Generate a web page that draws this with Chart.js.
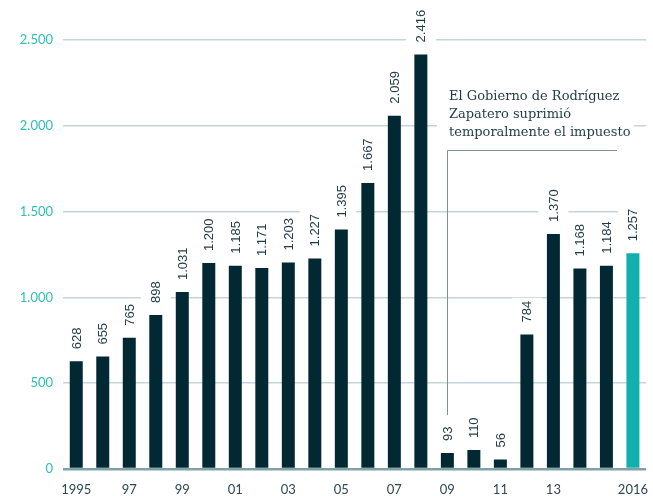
<!DOCTYPE html>
<html>
<head>
<meta charset="utf-8">
<script src="https://cdn.jsdelivr.net/npm/chart.js@4"></script>
<style>
  html, body { margin: 0; padding: 0; background: #fff; }
  #wrap { width: 653px; height: 496px; }
</style>
</head>
<body>
<div id="wrap"><canvas id="chart"></canvas></div>
<script>
const years = ['1995','1996','1997','1998','1999','2000','2001','2002','2003','2004','2005',
               '2006','2007','2008','2009','2010','2011','2012','2013','2014','2015','2016'];
const tickLabels = ['1995','','97','','99','','01','','03','','05','','07','','09','','11','','13','','','2016'];
const values = [628, 655, 765, 898, 1031, 1200, 1185, 1171, 1203, 1227, 1395,
                1667, 2059, 2416, 93, 110, 56, 784, 1370, 1168, 1184, 1257];
const yTicks = [0, 500, 1000, 1500, 2000, 2500];
const noteLines = ['El Gobierno de Rodríguez', 'Zapatero suprimió', 'temporalmente el impuesto'];
const noteIndex = 14; // 2009

const fmt = v => v.toString().replace(/\B(?=(\d{3})+(?!\d))/g, '.');

// value labels + annotation, drawn after grid, before bars
const labelsPlugin = {
    id: 'labels',
    beforeDatasetsDraw(chart) {
        const ctx = chart.ctx;
        const meta = chart.getDatasetMeta(0);
        ctx.save();
        ctx.font = '13px "Liberation Sans", Arial, sans-serif';
        meta.data.forEach((bar, i) => {
            const txt = fmt(values[i]);
            const w = ctx.measureText(txt).width;
            ctx.save();
            ctx.translate(bar.x, bar.y - 12);
            ctx.rotate(-Math.PI / 2);
            ctx.fillStyle = '#fff';
            ctx.fillRect(-3, -15, w + 6, 30);
            ctx.fillStyle = '#1f3b44';
            ctx.textAlign = 'left';
            ctx.textBaseline = 'middle';
            ctx.fillText(txt, 0, 1);
            ctx.restore();
        });

        // annotation
        const nx = Math.round(meta.data[noteIndex].x);
        ctx.fillStyle = '#fff';
        ctx.fillRect(nx - 10, 82, 197, 62);
        ctx.font = '13px "DejaVu Serif", serif';
        ctx.fillStyle = '#1f3b44';
        ctx.textAlign = 'left';
        ctx.textBaseline = 'alphabetic';
        noteLines.forEach((l, k) => ctx.fillText(l, nx + 2, 100 + k * 18));
        ctx.strokeStyle = '#7d9298';
        ctx.lineWidth = 1;
        ctx.beginPath();
        ctx.moveTo(nx + 0.5, meta.data[noteIndex].y - 38);
        ctx.lineTo(nx + 0.5, 150.5);
        ctx.lineTo(nx + 170, 150.5);
        ctx.stroke();
        ctx.restore();
    }
};

new Chart(document.getElementById('chart').getContext('2d'), {
    type: 'bar',
    data: {
        labels: years,
        datasets: [{
            data: values,
            backgroundColor: values.map((v, i) => i === values.length - 1 ? '#12b0ad' : '#022933'),
            barPercentage: 0.49,
            categoryPercentage: 1
        }]
    },
    options: {
        responsive: true,
        maintainAspectRatio: false,
        animation: false,
        layout: { padding: { top: 40, right: -5, left: 0, bottom: 0 } },
        plugins: {
            legend: { display: false },
            tooltip: { enabled: false }
        },
        scales: {
            x: {
                grid: { display: false },
                border: { display: false },
                afterFit: s => { s.height = 27; },
                ticks: {
                    autoSkip: false,
                    maxRotation: 0,
                    padding: 5,
                    color: '#2e4850',
                    font: { family: 'Lato, sans-serif', size: 13 },
                    callback: (v, i) => tickLabels[i]
                }
            },
            y: {
                min: 0,
                max: 2500,
                afterFit: s => { s.width = 63; },
                afterBuildTicks: s => { s.ticks = yTicks.map(v => ({ value: v })); },
                border: { display: false },
                grid: {
                    drawTicks: false,
                    color: c => c.tick.value === 0 ? '#7fa2a8' : '#c4d5d9',
                    lineWidth: c => c.tick.value === 0 ? 2.5 : 1.5
                },
                ticks: {
                    padding: 10,
                    color: '#2dbfb7',
                    font: { family: 'Lato, sans-serif', size: 13 },
                    callback: v => fmt(v)
                }
            }
        }
    },
    plugins: [labelsPlugin]
});
</script>
</body>
</html>
